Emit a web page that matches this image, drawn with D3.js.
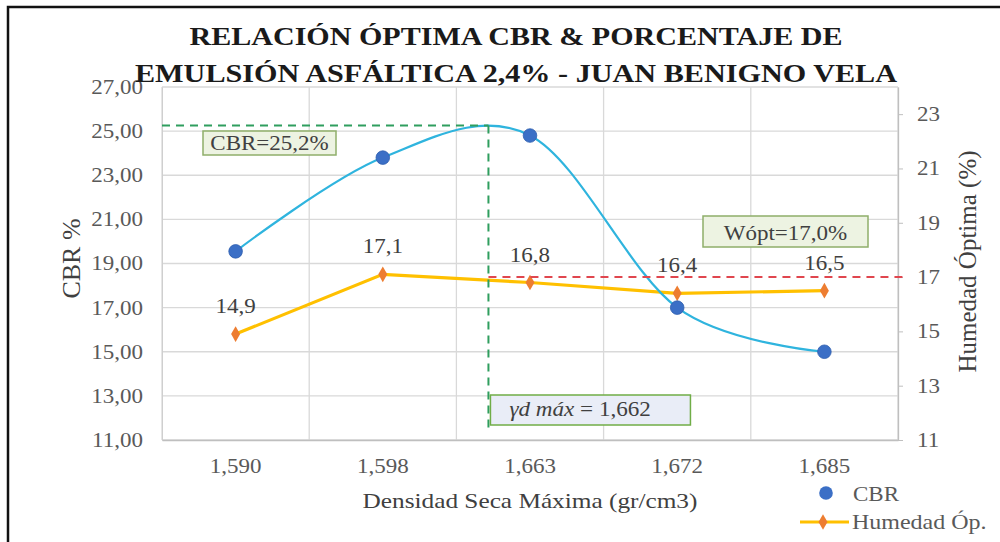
<!DOCTYPE html>
<html><head><meta charset="utf-8">
<script src="https://cdn.jsdelivr.net/npm/d3@7"></script>
<style>
body{margin:0;background:#fff}
svg{display:block}
</style>
</head><body>
<svg id="c" width="1000" height="542"></svg>
<script>
// ---- data ----
const categories = ["1,590", "1,598", "1,663", "1,672", "1,685"];
const cbrValues = [19.55, 23.8, 24.8, 17.0, 15.0];
const humedadValues = [14.9, 17.1, 16.8, 16.4, 16.5];
const humedadLabels = ["14,9", "17,1", "16,8", "16,4", "16,5"];
const leftTicks = [11, 13, 15, 17, 19, 21, 23, 25, 27];
const rightTicks = [11, 13, 15, 17, 19, 21, 23];
const cbrOptLabel = "CBR=25,2%";
const wOpt = 17.0;
const wOptLabel = "Wópt=17,0%";
const ydMaxValue = "1,662";
const titleLines = ["RELACIÓN ÓPTIMA CBR & PORCENTAJE DE", "EMULSIÓN ASFÁLTICA 2,4% - JUAN BENIGNO VELA"];

// ---- pick an installed serif face ----
function pickSerif() {
  const cands = ["Liberation Serif", "Times New Roman", "Tinos", "DejaVu Serif", "FreeSerif", "Noto Serif"];
  const c = document.createElement("canvas").getContext("2d");
  const s = "RELACIÓN ÓPTIMA mmmwwwiiilll 1,590";
  c.font = "40px monospace"; const wm = c.measureText(s).width;
  c.font = "40px sans-serif"; const ws = c.measureText(s).width;
  for (const f of cands) {
    c.font = `40px "${f}", monospace`; const a = c.measureText(s).width;
    c.font = `40px "${f}", sans-serif`; const b = c.measureText(s).width;
    if (Math.abs(a - wm) > 0.5 && Math.abs(b - ws) > 0.5 && Math.abs(a - b) < 0.5) return `"${f}"`;
  }
  return "serif";
}
const SERIF = pickSerif() + ", serif";

// ---- layout ----
const P = {l: 162, r: 898, t: 87, b: 440};
const STRETCH = 1.15;
const svg = d3.select("#c");

const x = d3.scaleBand().domain(categories).range([P.l, P.r]).padding(0);
const cx = i => x(categories[i]) + x.bandwidth() / 2;
const yL = d3.scaleLinear().domain([11, 27]).range([P.b, P.t]);
const yR = d3.scaleLinear().domain([11, 24]).range([P.b, P.t]);
const fmt2 = d => d3.format(".2f")(d).replace(".", ",");

function stretch(sel, s) {
  sel.each(function () {
    const bb = this.getBBox();
    const a = getComputedStyle(this).textAnchor;
    const ax = a === "end" ? bb.x + bb.width : a === "middle" ? bb.x + bb.width / 2 : bb.x;
    const ex = this.getAttribute("transform") || "";
    this.setAttribute("transform", `translate(${ax},0) scale(${s},1) translate(${-ax},0) ${ex}`);
  });
}

// outer frame
svg.append("rect").attr("x", 8).attr("y", 7).attr("width", 1010).attr("height", 560)
  .attr("fill", "none").attr("stroke", "#111").attr("stroke-width", 2.5);

// gridlines
const grid = svg.append("g");
grid.selectAll("line.h").data(leftTicks).join("line")
  .attr("x1", P.l).attr("x2", P.r).attr("y1", d => yL(d)).attr("y2", d => yL(d))
  .attr("stroke", "#d9d9d9").attr("stroke-width", 1.3);
grid.selectAll("line.v").data(categories.map(c => x(c)).concat([P.r])).join("line")
  .attr("x1", d => d).attr("x2", d => d).attr("y1", P.t).attr("y2", P.b)
  .attr("stroke", "#d9d9d9").attr("stroke-width", 1.3);

// axes
const axL = svg.append("g").attr("transform", `translate(${P.l},0)`)
  .call(d3.axisLeft(yL).tickValues(leftTicks).tickSize(0).tickPadding(19).tickFormat(fmt2));
axL.select(".domain").attr("stroke", "#cfcfcf");
axL.selectAll("text").attr("font-size", 20).attr("fill", "#595959");

const axR = svg.append("g").attr("transform", `translate(${P.r},0)`)
  .call(d3.axisRight(yR).tickValues(rightTicks).tickSize(5).tickSizeOuter(0).tickPadding(14));
axR.select(".domain").attr("stroke", "#bfbfbf").attr("stroke-width", 1.3);
axR.selectAll(".tick line").attr("stroke", "#bfbfbf");
axR.selectAll("text").attr("font-size", 20).attr("fill", "#595959");

const axB = svg.append("g").attr("transform", `translate(0,${P.b})`)
  .call(d3.axisBottom(x).tickSize(0).tickPadding(19));
axB.select(".domain").attr("stroke", "#bfbfbf").attr("stroke-width", 1.3);
axB.selectAll("text").attr("font-size", 20).attr("fill", "#595959");

// series
const humLine = d3.line().x((d, i) => cx(i)).y(d => yR(d));
svg.append("path").datum(humedadValues).attr("d", humLine)
  .attr("fill", "none").attr("stroke", "#ffc000").attr("stroke-width", 3.2);

const cbrLine = d3.line().x((d, i) => cx(i)).y(d => yL(d)).curve(d3.curveCardinal.tension(0));
const cbrPath = svg.append("path").datum(cbrValues).attr("d", cbrLine)
  .attr("fill", "none").attr("stroke", "#2fb4de").attr("stroke-width", 2.2);

const diamond = d3.symbol().type(d3.symbolDiamond).size(70);
svg.selectAll("path.hm").data(humedadValues).join("path").attr("class", "hm")
  .attr("d", diamond).attr("transform", (d, i) => `translate(${cx(i)},${yR(d)})`)
  .attr("fill", "#ed7d31");

svg.selectAll("circle.cb").data(cbrValues).join("circle").attr("class", "cb")
  .attr("cx", (d, i) => cx(i)).attr("cy", d => yL(d)).attr("r", 6.8)
  .attr("fill", "#3b6fc6").attr("stroke", "#2f5eae").attr("stroke-width", 0.8);

// data labels
const dl = svg.selectAll("text.dl").data(humedadValues).join("text").attr("class", "dl")
  .attr("x", (d, i) => cx(i)).attr("y", d => yR(d) - 21)
  .attr("text-anchor", "middle").attr("font-size", 20).attr("fill", "#404040")
  .text((d, i) => humedadLabels[i]);

// optimum from the smoothed CBR curve
const node = cbrPath.node();
const Ltot = node.getTotalLength();
let peak = {x: 0, y: 1e9};
for (let s = 0; s <= Ltot; s += 0.5) {
  const p = node.getPointAtLength(s);
  if (p.y < peak.y) peak = {x: p.x, y: p.y};
}
const green = "#2f9e5e";
svg.append("line").attr("x1", P.l).attr("x2", peak.x).attr("y1", peak.y).attr("y2", peak.y)
  .attr("stroke", green).attr("stroke-width", 2).attr("stroke-dasharray", "8,6");
svg.append("line").attr("x1", peak.x).attr("x2", peak.x).attr("y1", peak.y).attr("y2", P.b - 8)
  .attr("stroke", green).attr("stroke-width", 2).attr("stroke-dasharray", "8,6");
svg.append("line").attr("x1", peak.x).attr("x2", P.r + 6).attr("y1", yR(wOpt)).attr("y2", yR(wOpt))
  .attr("stroke", "#e0464e").attr("stroke-width", 2).attr("stroke-dasharray", "8,6");

// annotation boxes
function box(x0, y0, w, h, fill, stroke) {
  svg.append("rect").attr("x", x0).attr("y", y0).attr("width", w).attr("height", h)
    .attr("fill", fill).attr("stroke", stroke).attr("stroke-width", 1.5);
}
box(203, 131, 133, 24, "#edf3e2", "#8fae6a");
const t1 = svg.append("text").attr("x", 269.5).attr("y", 150).attr("text-anchor", "middle")
  .attr("font-size", 20).attr("fill", "#404040").text(cbrOptLabel);

box(703, 216, 165, 31, "#edf3e2", "#8fae6a");
const t2 = svg.append("text").attr("x", 785.5).attr("y", 240).attr("text-anchor", "middle")
  .attr("font-size", 20).attr("fill", "#404040").text(wOptLabel);

box(peak.x + 2, 395, 200, 30, "#e9edf7", "#70ad47");
const t3 = svg.append("text").attr("x", peak.x + 21).attr("y", 416)
  .attr("font-size", 21).attr("fill", "#404040");
t3.append("tspan").attr("font-style", "italic").text("γd máx");
t3.append("tspan").text(" = " + ydMaxValue);

// titles
const title = svg.append("g");
const tl = [{t: titleLines[0], y: 45, w: 653}, {t: titleLines[1], y: 82, w: 762}];
title.selectAll("text").data(tl).join("text")
  .attr("x", 516).attr("y", d => d.y).attr("text-anchor", "middle")
  .attr("font-size", 25).attr("font-weight", "bold").attr("fill", "#1a1a1a")
  .attr("textLength", d => d.w).attr("lengthAdjust", "spacingAndGlyphs")
  .text(d => d.t);

const xt = svg.append("text").attr("x", (P.l + P.r) / 2).attr("y", 508).attr("text-anchor", "middle")
  .attr("font-size", 22).attr("fill", "#404040").text("Densidad Seca Máxima (gr/cm3)");

svg.append("text").attr("transform", `translate(80,${(P.t + P.b) / 2 - 5}) rotate(-90)`)
  .attr("text-anchor", "middle").attr("font-size", 26).attr("fill", "#404040").text("CBR %");
svg.append("text").attr("transform", `translate(976,${(P.t + P.b) / 2 - 2}) rotate(-90)`)
  .attr("text-anchor", "middle").attr("font-size", 25).attr("fill", "#404040").text("Humedad Óptima (%)");

// legend
svg.append("circle").attr("cx", 826).attr("cy", 493).attr("r", 6.8).attr("fill", "#3b6fc6");
const lg1 = svg.append("text").attr("x", 853).attr("y", 501).attr("font-size", 20).attr("fill", "#595959").text("CBR");
svg.append("line").attr("x1", 800).attr("x2", 849).attr("y1", 522).attr("y2", 522)
  .attr("stroke", "#ffc000").attr("stroke-width", 3.2);
svg.append("path").attr("d", diamond).attr("transform", "translate(823,522)").attr("fill", "#ed7d31");
const lg2 = svg.append("text").attr("x", 852).attr("y", 529).attr("font-size", 20).attr("fill", "#595959").text("Humedad Óp.");

// apply the serif face everywhere (inline style beats d3 axis attributes)
svg.selectAll("g").attr("font-family", null);
svg.selectAll("text").style("font-family", SERIF);

// horizontally widen text like the reference
stretch(axL.selectAll("text"), STRETCH);
stretch(axR.selectAll("text"), STRETCH);
stretch(axB.selectAll("text"), STRETCH);
stretch(dl, STRETCH);
stretch(t1, STRETCH);
stretch(t2, STRETCH);
stretch(t3, 1.1);
stretch(xt, STRETCH);
stretch(lg1, STRETCH);
stretch(lg2, 1.2);
</script>
</body></html>
